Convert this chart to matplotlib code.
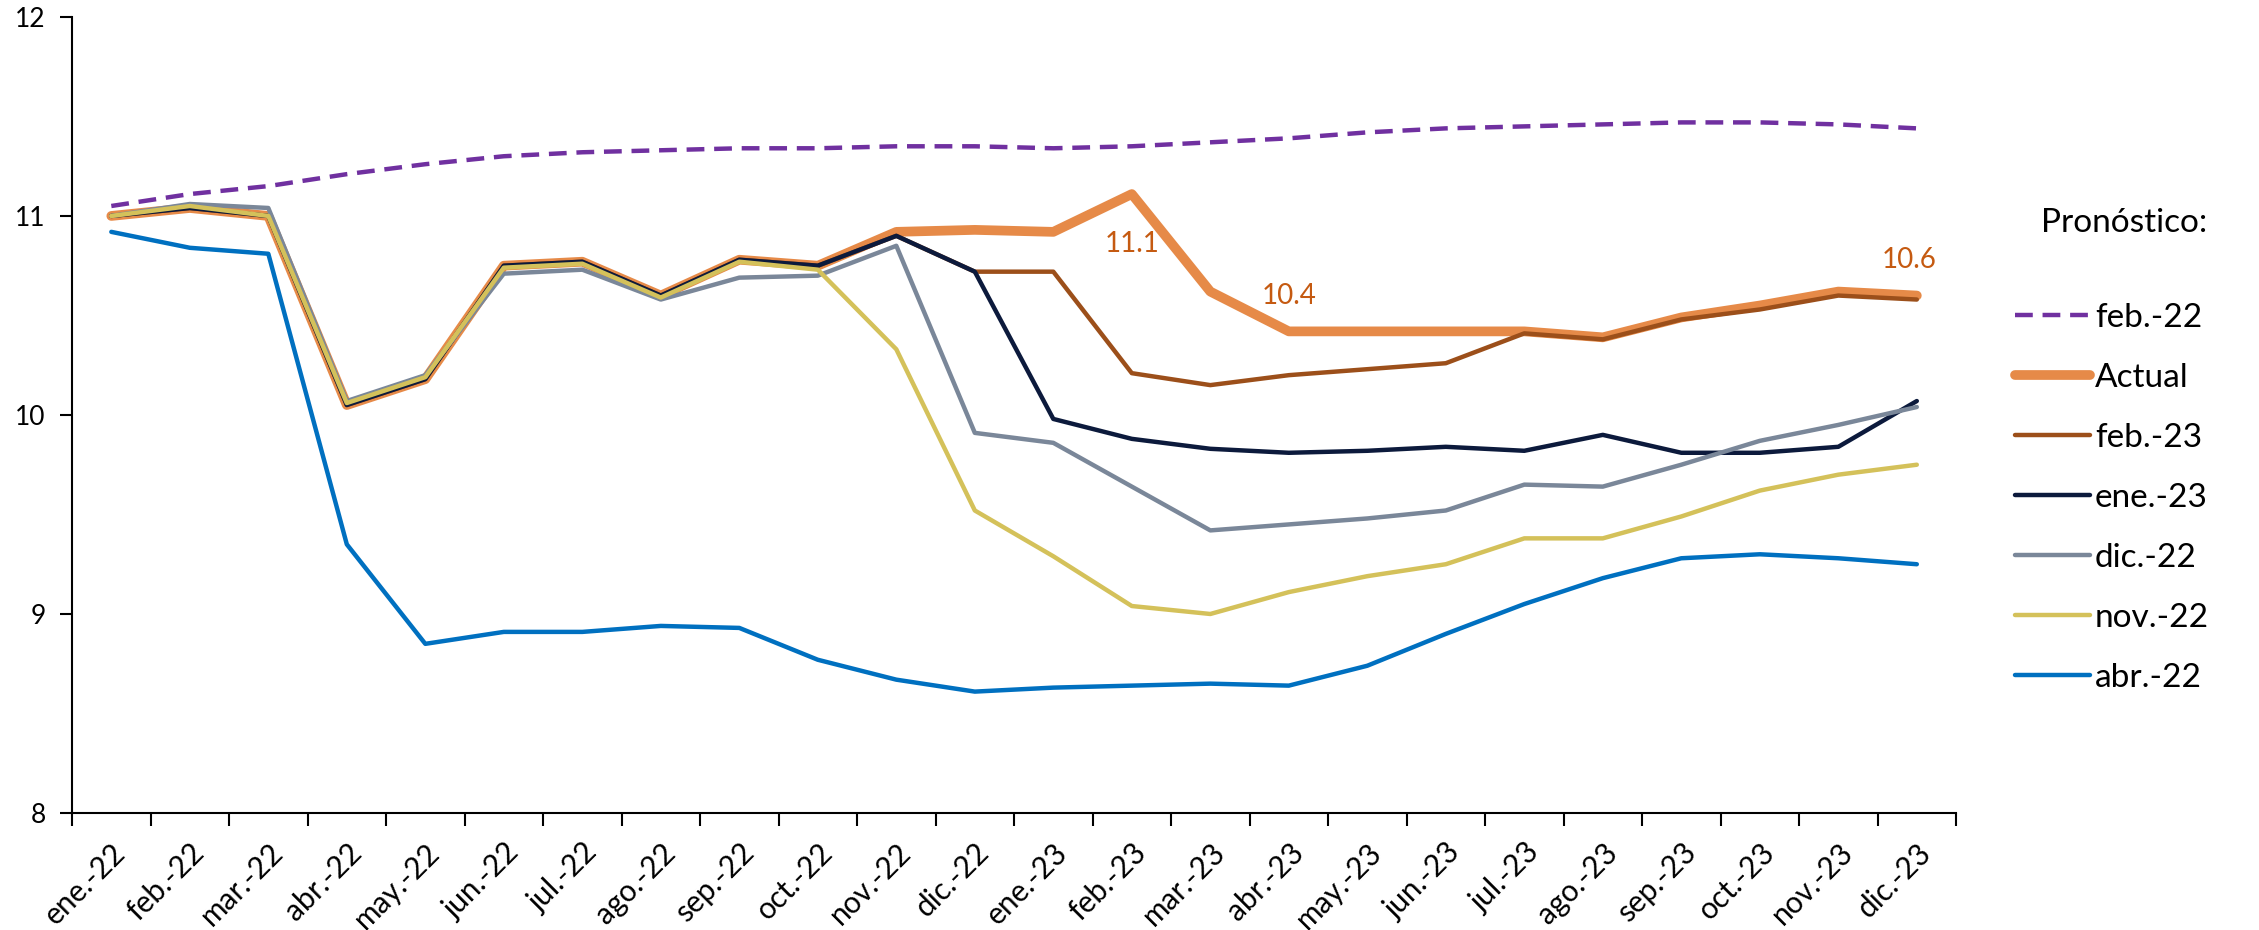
import matplotlib
matplotlib.use("Agg")
import matplotlib.pyplot as plt
import numpy as np

plt.rcParams['font.family'] = ['Lato', 'DejaVu Sans']

months = ["ene.-22", "feb.-22", "mar.-22", "abr.-22", "may.-22", "jun.-22",
          "jul.-22", "ago.-22", "sep.-22", "oct.-22", "nov.-22", "dic.-22",
          "ene.-23", "feb.-23", "mar.-23", "abr.-23", "may.-23", "jun.-23",
          "jul.-23", "ago.-23", "sep.-23", "oct.-23", "nov.-23", "dic.-23"]

f_feb22 = [11.05, 11.11, 11.15, 11.21, 11.26, 11.30, 11.32, 11.33, 11.34, 11.34, 11.35, 11.35,
           11.34, 11.35, 11.37, 11.39, 11.42, 11.44, 11.45, 11.46, 11.47, 11.47, 11.46, 11.44]
actual = [11.00, 11.04, 11.00, 10.05, 10.18, 10.75, 10.77, 10.60, 10.78, 10.75, 10.92, 10.93,
          10.92, 11.11, 10.62, 10.42, 10.42, 10.42, 10.42, 10.39, 10.49, 10.55, 10.62, 10.60]
f_feb23 = [11.00, 11.04, 11.00, 10.05, 10.18, 10.75, 10.77, 10.60, 10.78, 10.75, 10.90, 10.72,
           10.72, 10.21, 10.15, 10.20, 10.23, 10.26, 10.41, 10.38, 10.48, 10.53, 10.60, 10.58]
f_ene23 = [11.00, 11.04, 11.00, 10.05, 10.18, 10.75, 10.77, 10.60, 10.78, 10.75, 10.90, 10.72,
           9.98, 9.88, 9.83, 9.81, 9.82, 9.84, 9.82, 9.90, 9.81, 9.81, 9.84, 10.07]
f_dic22 = [11.00, 11.06, 11.04, 10.07, 10.20, 10.71, 10.73, 10.58, 10.69, 10.70, 10.85, 9.91,
           9.86, 9.64, 9.42, 9.45, 9.48, 9.52, 9.65, 9.64, 9.75, 9.87, 9.95, 10.04]
f_nov22 = [11.00, 11.05, 11.00, 10.06, 10.19, 10.74, 10.76, 10.59, 10.77, 10.73, 10.33, 9.52,
           9.29, 9.04, 9.00, 9.11, 9.19, 9.25, 9.38, 9.38, 9.49, 9.62, 9.70, 9.75]
f_abr22 = [10.92, 10.84, 10.81, 9.35, 8.85, 8.91, 8.91, 8.94, 8.93, 8.77, 8.67, 8.61,
           8.63, 8.64, 8.65, 8.64, 8.74, 8.90, 9.05, 9.18, 9.28, 9.30, 9.28, 9.25]

labels = ["feb.-22", "Actual", "feb.-23", "ene.-23", "dic.-22", "nov.-22", "abr.-22"]
series = [f_feb22, actual, f_feb23, f_ene23, f_dic22, f_nov22, f_abr22]
colors = ["#7030A0", "#E68A48", "#9C4F1A", "#0C1A3C", "#7A8799", "#D4C15A", "#0070C0"]
widths = [3.2, 7.0, 3.2, 3.2, 3.2, 3.2, 3.2]

# labelled points on Actual: (month index, text)
notes = [(13, "11.1"), (15, "10.4"), (23, "10.6")]

fig = plt.figure(figsize=(22.59, 9.30), dpi=100)
ax = fig.add_axes([0.0319, 0.1258, 0.834, 0.856])

x = np.arange(len(months))
for i, (lab, y, c, w) in enumerate(zip(labels, series, colors, widths)):
    if lab == "feb.-22":
        ax.plot(x, y, color=c, lw=w, dashes=(4, 2.2), label=lab, zorder=2 + i)
    else:
        ax.plot(x, y, color=c, lw=w, label=lab, zorder=2 + i,
                solid_joinstyle='round', solid_capstyle='round')

offsets = {13: (0.0, -0.25), 15: (0.0, 0.18), 23: (-0.1, 0.18)}
for idx, txt in notes:
    dx, dy = offsets[idx]
    ax.text(idx + dx, actual[idx] + dy, txt, color="#C55A11", fontsize=20,
            ha='center', va='center')

ax.set_xlim(-0.5, len(months) - 0.5)
ax.set_ylim(8, 12)
ax.set_yticks([8, 9, 10, 11, 12])
ax.tick_params(axis='y', labelsize=19, length=9, width=1.5, pad=10)

ax.set_xticks(x)
ax.set_xticklabels(months, rotation=45, ha='right', rotation_mode='anchor', fontsize=21.5)
ax.set_xticks(np.arange(len(months) + 1) - 0.5, minor=True)
ax.tick_params(axis='x', which='major', length=0, pad=18)
ax.tick_params(axis='x', which='minor', length=9, width=1.5)

for s in ['top', 'right']:
    ax.spines[s].set_visible(False)
for s in ['left', 'bottom']:
    ax.spines[s].set_linewidth(1.5)

fig.text(0.9035, 0.760, "Pronóstico:", fontsize=24, ha='left', va='center')
fig.legend(loc='center left', bbox_to_anchor=(0.892, 0.4645), frameon=False,
           fontsize=24, handlelength=2.25, handletextpad=0.15, labelspacing=0.9,
           borderpad=0, borderaxespad=0)

fig.savefig("out.png", dpi=100)
